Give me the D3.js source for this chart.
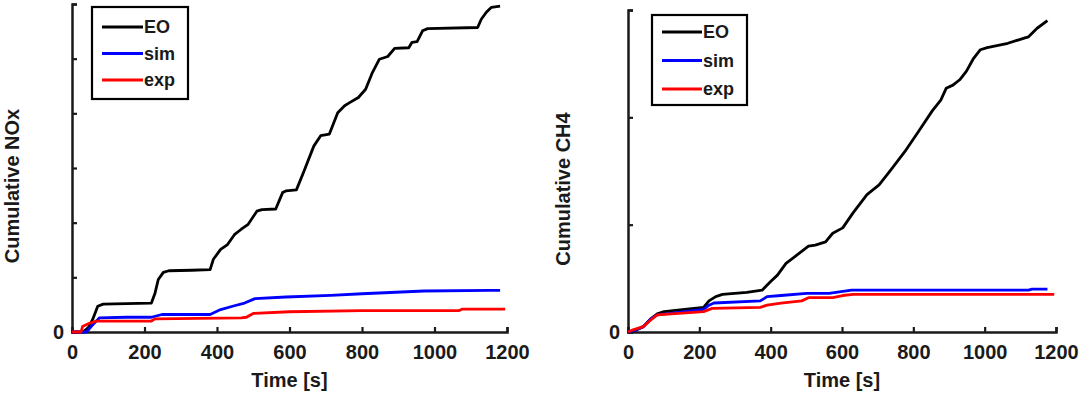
<!DOCTYPE html>
<html>
<head>
<meta charset="utf-8">
<script src="https://cdn.jsdelivr.net/npm/d3@7"></script>
<style>
  body { margin: 0; background: #fff; }
  svg { display: block; }
  text { font-family: "Liberation Sans", Arial, sans-serif; font-weight: bold; fill: #1a1a1a; }
</style>
</head>
<body>
<svg id="chart" width="1079" height="395"></svg>
<script>
const timeTicks = [0, 200, 400, 600, 800, 1000, 1200];
const seriesNames = ['EO', 'sim', 'exp'];
const seriesColors = ['#000000', '#0000ff', '#ff0000'];

// cumulative NOx, [time s, value]
const noxEO = [[0,0],[30,0],[45,0.08],[57,0.23],[71,0.47],[86,0.51],[150,0.52],[219,0.53],[229,0.71],[238,0.96],[252,1.09],[267,1.12],[330,1.13],[381,1.14],[390,1.33],[410,1.51],[429,1.60],[448,1.78],[467,1.88],[486,1.97],[510,2.21],[524,2.24],[562,2.25],[581,2.55],[590,2.58],[619,2.60],[638,2.91],[667,3.40],[686,3.59],[710,3.62],[733,4.01],[752,4.14],[767,4.20],[790,4.29],[810,4.44],[829,4.75],[848,4.99],[871,5.04],[890,5.19],[929,5.20],[938,5.30],[952,5.31],[967,5.51],[981,5.55],[1119,5.57],[1129,5.72],[1143,5.85],[1157,5.94],[1181,5.96]];
const noxSim = [[0,0],[40,0],[57,0.13],[76,0.26],[150,0.27],[219,0.27],[248,0.32],[381,0.32],[410,0.41],[448,0.48],[476,0.53],[505,0.61],[590,0.64],[714,0.67],[800,0.70],[971,0.75],[1152,0.76],[1181,0.76]];
const noxExp = [[0,0],[25,0],[29,0.10],[48,0.16],[67,0.20],[219,0.20],[229,0.24],[467,0.26],[481,0.27],[500,0.34],[600,0.37],[800,0.39],[1067,0.39],[1077,0.42],[1195,0.42]];

// cumulative CH4, [time s, value]
const ch4EO = [[0,0],[24,0.02],[43,0.05],[63,0.12],[82,0.17],[101,0.19],[159,0.21],[212,0.23],[227,0.29],[246,0.33],[265,0.35],[333,0.37],[376,0.39],[400,0.47],[419,0.53],[443,0.64],[467,0.70],[506,0.80],[525,0.81],[554,0.84],[574,0.92],[602,0.97],[631,1.11],[670,1.28],[704,1.37],[737,1.51],[776,1.68],[815,1.87],[853,2.06],[877,2.16],[892,2.27],[911,2.30],[930,2.35],[949,2.43],[969,2.55],[988,2.63],[1007,2.65],[1065,2.69],[1113,2.74],[1123,2.75],[1147,2.83],[1176,2.90]];
const ch4Sim = [[0,0],[24,0.02],[43,0.05],[63,0.12],[82,0.16],[212,0.21],[227,0.25],[241,0.27],[371,0.29],[390,0.33],[429,0.34],[501,0.36],[564,0.36],[583,0.37],[627,0.39],[1123,0.39],[1133,0.40],[1176,0.40]];
const ch4Exp = [[0,0],[14,0.02],[43,0.05],[63,0.11],[82,0.16],[212,0.19],[236,0.22],[371,0.23],[390,0.25],[429,0.27],[487,0.29],[506,0.32],[574,0.32],[602,0.34],[631,0.35],[1195,0.35]];

const svg = d3.select('#chart');

function drawPanel(p) {
  const x = d3.scaleLinear().domain([0, 1200]).range([p.left, p.right]);
  const y = d3.scaleLinear().domain([0, p.yMax]).range([p.bottom, p.top]);
  const g = svg.append('g');

  const xAxis = d3.axisBottom(x)
    .tickValues(timeTicks)
    .tickSizeInner(-5)
    .tickSizeOuter(-5)
    .tickPadding(13)
    .tickFormat(d3.format('d'));

  const yAxis = d3.axisLeft(y)
    .tickValues(d3.range(0, p.yMax + 1))
    .tickSizeInner(-5)
    .tickSizeOuter(-5)
    .tickPadding(8)
    .tickFormat(d => d === 0 ? '0' : '');

  function styleAxis(a) {
    a.select('.domain').attr('stroke', '#1a1a1a').attr('stroke-width', 2.5);
    a.selectAll('.tick line').attr('stroke', '#1a1a1a').attr('stroke-width', 2.2);
    a.selectAll('.tick text').style('font-size', '20px').attr('fill', '#1a1a1a');
  }

  g.append('g')
    .attr('transform', 'translate(0,' + p.bottom + ')')
    .call(xAxis)
    .call(styleAxis);

  g.append('g')
    .attr('transform', 'translate(' + p.left + ',0)')
    .call(yAxis)
    .call(styleAxis);

  const line = d3.line()
    .x(d => x(d[0]))
    .y(d => y(d[1]));

  g.append('g')
    .selectAll('path')
    .data(p.series)
    .enter().append('path')
    .attr('d', line)
    .attr('fill', 'none')
    .attr('stroke', (d, i) => seriesColors[i])
    .attr('stroke-width', 2.8)
    .attr('stroke-linejoin', 'round');

  // labels
  g.append('text')
    .attr('x', (p.left + p.right) / 2)
    .attr('y', 387)
    .attr('text-anchor', 'middle')
    .style('font-size', '20px')
    .text('Time [s]');

  g.append('text')
    .attr('transform', 'translate(' + p.yLabelX + ',' + p.yLabelY + ') rotate(-90)')
    .attr('text-anchor', 'middle')
    .attr('dy', '0.35em')
    .style('font-size', '20px')
    .text(p.yLabel);

  // legend
  const lg = g.append('g').attr('transform', 'translate(' + p.legend.x + ',' + p.legend.y + ')');
  lg.append('rect')
    .attr('width', p.legend.w)
    .attr('height', p.legend.h)
    .attr('fill', '#fff')
    .attr('stroke', '#000')
    .attr('stroke-width', 2.2);

  const rows = lg.selectAll('g.row')
    .data(seriesNames)
    .enter().append('g')
    .attr('class', 'row')
    .attr('transform', (d, i) => 'translate(0,' + (p.legend.row0 + i * p.legend.rowStep) + ')');

  rows.append('line')
    .attr('x1', 10)
    .attr('x2', 10 + p.legend.lineLen)
    .attr('stroke', (d, i) => seriesColors[i])
    .attr('stroke-width', 2.8);

  rows.append('text')
    .attr('x', 11 + p.legend.lineLen)
    .attr('dy', '0.36em')
    .style('font-size', '18px')
    .text(d => d);
}

drawPanel({
  left: 72, right: 507, top: 4, bottom: 332, yMax: 6,
  yLabel: 'Cumulative NOx', yLabelX: 12, yLabelY: 186,
  series: [noxEO, noxSim, noxExp],
  legend: {x: 92, y: 7, w: 96, h: 92, row0: 20, rowStep: 26.5, lineLen: 41}
});

drawPanel({
  left: 628, right: 1056, top: 10, bottom: 332, yMax: 3,
  yLabel: 'Cumulative CH4', yLabelX: 563, yLabelY: 189,
  series: [ch4EO, ch4Sim, ch4Exp],
  legend: {x: 652, y: 15, w: 95, h: 90, row0: 17, rowStep: 28.5, lineLen: 40}
});
</script>
</body>
</html>
